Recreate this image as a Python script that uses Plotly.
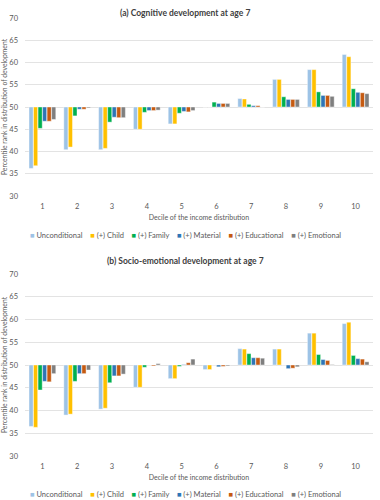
import plotly.graph_objects as go

deciles = ["1", "2", "3", "4", "5", "6", "7", "8", "9", "10"]
series_names = ["Unconditional", "(+) Child", "(+) Family", "(+) Material", "(+) Educational", "(+) Emotional"]
colors = ["#9DC3E6", "#FFC000", "#00B050", "#2E75B6", "#C55A11", "#7F7F7F"]

# (a) Cognitive development at age 7
cog_unconditional = [36.2, 40.4, 40.4, 45.0, 46.2, 50.0, 51.9, 56.2, 58.4, 61.8]
cog_child = [36.8, 41.0, 40.7, 45.0, 46.2, 50.0, 51.8, 56.2, 58.4, 61.3]
cog_family = [45.2, 48.0, 46.6, 48.8, 48.6, 51.1, 50.6, 52.3, 53.4, 54.1]
cog_material = [46.8, 49.5, 47.7, 49.2, 49.0, 50.8, 50.3, 51.7, 52.6, 53.3]
cog_educational = [46.8, 49.5, 47.6, 49.2, 48.9, 50.8, 50.3, 51.7, 52.6, 53.2]
cog_emotional = [47.2, 49.8, 47.6, 49.3, 49.2, 50.8, 50.0, 51.7, 52.4, 53.0]

# (b) Socio-emotional development at age 7
soc_unconditional = [36.5, 39.0, 40.3, 45.1, 47.0, 49.0, 53.6, 53.5, 57.0, 59.1]
soc_child = [36.3, 39.2, 40.5, 45.1, 47.0, 49.0, 53.5, 53.5, 57.0, 59.4]
soc_family = [44.5, 46.4, 46.1, 49.5, 49.7, 50.0, 52.5, 50.0, 52.3, 52.1]
soc_material = [46.4, 48.1, 47.6, 50.0, 50.1, 49.6, 51.6, 49.2, 51.2, 51.4]
soc_educational = [46.3, 48.1, 47.6, 49.8, 50.5, 49.7, 51.6, 49.3, 51.0, 51.3]
soc_emotional = [48.1, 48.9, 48.0, 50.3, 51.3, 49.8, 51.5, 49.6, 50.1, 50.7]

BASE = 50
cog = [cog_unconditional, cog_child, cog_family, cog_material, cog_educational, cog_emotional]
soc = [soc_unconditional, soc_child, soc_family, soc_material, soc_educational, soc_emotional]

FONT = "Lato"
GRAY = "#595959"

fig = go.Figure()
for panel, (data, xa, ya) in enumerate([(cog, "x", "y"), (soc, "x2", "y2")]):
    for name, col, vals in zip(series_names, colors, data):
        fig.add_trace(go.Bar(
            x=deciles, y=[v - BASE for v in vals], base=BASE,
            name=name, marker=dict(color=col, line=dict(color="rgba(255,255,255,0.7)", width=0.6)),
            xaxis=xa, yaxis=ya, showlegend=False, offsetgroup=name,
            customdata=vals, hovertemplate="%{customdata}<extra>" + name + "</extra>",
        ))

axis_common_y = dict(range=[30, 70], dtick=5, showgrid=True, gridcolor="#E3E3E3", gridwidth=1,
                     zeroline=False, showline=False, ticks="", automargin=False,
                     tickfont=dict(family=FONT, size=7.5, color=GRAY), ticklabelstandoff=6,
                     title=dict(text="Percentile rank in distribution of development",
                                font=dict(family=FONT, size=6.8, color=GRAY), standoff=3))
axis_common_x = dict(type="category", showgrid=False, showline=False, ticks="", zeroline=False,
                     automargin=False,
                     tickfont=dict(family=FONT, size=7.5, color=GRAY), ticklabelstandoff=4,
                     title=dict(text="Decile of the income distribution",
                                font=dict(family=FONT, size=7, color=GRAY), standoff=5))

fig.update_layout(
    width=380, height=500,
    margin=dict(l=25, r=7, t=0, b=0),
    paper_bgcolor="white", plot_bgcolor="white",
    barmode="group", bargap=0.22, bargroupgap=0.08,
    font=dict(family=FONT, color=GRAY),
    xaxis=dict(domain=[0, 1], anchor="y", **axis_common_x),
    yaxis=dict(domain=[1 - 196 / 500, 1 - 18 / 500], anchor="x", **axis_common_y),
    xaxis2=dict(domain=[0, 1], anchor="y2", **axis_common_x),
    yaxis2=dict(domain=[1 - 456 / 500, 1 - 274 / 500], anchor="x2", **axis_common_y),
)

titles = ["(a) Cognitive development at age 7", "(b) Socio-emotional development at age 7"]
title_y = [13, 261]
for t, ty in zip(titles, title_y):
    fig.add_annotation(text="<b>" + t + "</b>", xref="paper", yref="paper",
                       x=0.46, y=1 - ty / 500, xanchor="center", yanchor="middle",
                       showarrow=False, font=dict(family=FONT, size=8.5, color="#404040"))

legend_text = "&nbsp;&nbsp;&nbsp;&nbsp;".join(
    f"<span style='color:{c}'>■</span> {n}" for n, c in zip(series_names, colors))
for ly in [235, 494]:
    fig.add_annotation(text=legend_text, xref="paper", yref="paper",
                       x=0.46, y=1 - ly / 500, xanchor="center", yanchor="middle",
                       showarrow=False, font=dict(family=FONT, size=7.5, color=GRAY))

fig.write_html("out.html", config={"displayModeBar": False},
               post_script="document.body.style.margin='0px';")
